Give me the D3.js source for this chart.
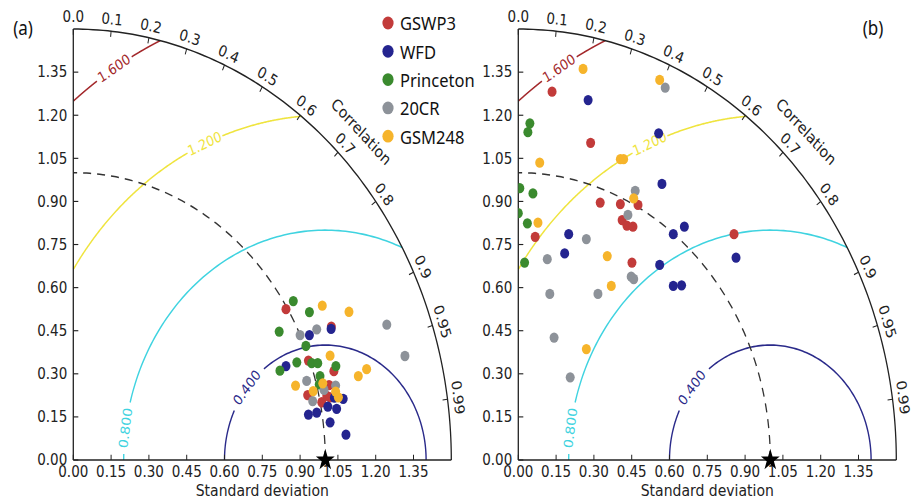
<!DOCTYPE html>
<html><head><meta charset="utf-8">
<script src="https://cdn.jsdelivr.net/npm/d3@7"></script>
<style>body{margin:0;background:#fff;} svg{display:block;}</style>
</head><body>
<svg id="chart" width="911" height="502"></svg>
<script>
// ---------- data ----------
const seriesNames = ["GSWP3", "WFD", "Princeton", "20CR", "GSM248"];
const seriesColors = ["#c23b3a", "#24248f", "#3a8a2e", "#8d9299", "#f6b42b"];
const stdTicks = [0, 0.15, 0.30, 0.45, 0.60, 0.75, 0.90, 1.05, 1.20, 1.35];
const corrTicks = [0, 0.1, 0.2, 0.3, 0.4, 0.5, 0.6, 0.7, 0.8, 0.9, 0.95, 0.99];
const corrTickLabels = ["0.0","0.1","0.2","0.3","0.4","0.5","0.6","0.7","0.8","0.9","0.95","0.99"];
const rmsLevels = [0.4, 0.8, 1.2, 1.6];
const rmsColors = ["#2a2a8a", "#3fd3e0", "#efe43e", "#a3282b"];
const rmsLabelAngle = [141, 172, 113.5, 121.6];
const rmsGapHalf = [13.5, 6.5, 3.6, 2.9];
const refStd = 1.0;

// panel (a): points as [x, y] components in standard-deviation units
const gswp3A = [[0.844,0.525],[1.024,0.464],[0.933,0.346],[1.034,0.309],[1.015,0.261],[0.930,0.226],[0.986,0.201],[1.006,0.223],[1.019,0.218]];
const wfdA = [[0.937,0.435],[1.023,0.456],[0.844,0.327],[1.036,0.217],[1.071,0.213],[1.010,0.186],[1.045,0.178],[0.966,0.165],[0.933,0.158],[1.019,0.131],[1.082,0.088]];
const princetonA = [[0.873,0.553],[0.937,0.515],[0.817,0.447],[0.923,0.397],[0.820,0.311],[0.887,0.340],[0.946,0.337],[0.970,0.337],[1.042,0.327],[0.979,0.292],[0.976,0.263]];
const c20crA = [[0.900,0.435],[0.966,0.455],[1.244,0.471],[1.316,0.362],[0.926,0.275],[1.041,0.259],[0.995,0.244],[0.950,0.205]];
const gsm248A = [[0.988,0.537],[1.094,0.516],[1.019,0.363],[1.164,0.316],[1.131,0.292],[0.882,0.259],[0.990,0.267],[0.952,0.240],[1.041,0.238],[1.052,0.218]];

// panel (b)
const gswp3B = [[0.134,1.282],[0.287,1.104],[0.067,0.777],[0.451,0.687],[0.325,0.896],[0.405,0.891],[0.475,0.888],[0.412,0.835],[0.431,0.816],[0.455,0.812],[0.856,0.786]];
const wfdB = [[0.277,1.253],[0.557,1.137],[0.200,0.786],[0.184,0.719],[0.561,0.679],[0.570,0.961],[0.659,0.812],[0.615,0.786],[0.864,0.704],[0.615,0.606],[0.648,0.608]];
const princetonB = [[0.046,1.172],[0.038,1.141],[0.006,0.946],[0.058,0.928],[0.000,0.859],[0.036,0.824],[0.025,0.687]];
const c20crB = [[0.583,1.296],[0.270,0.769],[0.115,0.699],[0.448,0.638],[0.458,0.630],[0.125,0.578],[0.316,0.578],[0.464,0.937],[0.435,0.853],[0.142,0.426],[0.206,0.288]];
const gsm248B = [[0.257,1.361],[0.561,1.323],[0.085,1.035],[0.405,1.047],[0.418,1.047],[0.078,0.826],[0.353,0.710],[0.369,0.606],[0.458,0.911],[0.270,0.386]];

// ---------- drawing ----------
const K = 252, S = 287.3 / 252, Y0 = 460, RMAX = 1.5;
const svg = d3.select("#chart");
const line = d3.line();
const axisColor = "#222";
const tickFont = "DejaVu Sans, sans-serif";

function panel(id, ox, series, tag, tagX) {
  // uniform polar space, then stretched vertically like the reference
  const g = svg.append("g").attr("transform", `translate(0,${Y0}) scale(1,${S}) translate(0,${-Y0})`);
  const x = d3.scaleLinear().domain([0, RMAX]).range([ox, ox + RMAX * K]);
  const y = d3.scaleLinear().domain([0, RMAX]).range([Y0, Y0 - RMAX * K]);
  const P = (r, th) => [x(r * Math.cos(th)), y(r * Math.sin(th))];
  const arcPts = (r, a0, a1) => { const n = 120; return d3.range(n + 1).map(k => P(r, a0 + (a1 - a0) * k / n)); };

  const clipPts = [[x(0), y(0)]].concat(arcPts(RMAX, 0, Math.PI / 2));
  g.append("defs").append("clipPath").attr("id", "clip" + id)
    .append("path").attr("d", line(clipPts) + "Z");

  // RMS contours
  rmsLevels.forEach((R, i) => {
    const cxm = (3.25 - R * R) / 2, c = (cxm - 1) / R;
    const pmin = c >= 1 ? 0 : Math.acos(c);
    const pmax = R > 1 ? Math.acos(-1 / R) : Math.PI;
    const gs = (rmsLabelAngle[i] - rmsGapHalf[i]) * Math.PI / 180;
    const ge = (rmsLabelAngle[i] + rmsGapHalf[i]) * Math.PI / 180;
    const seg = (a0, a1) => { const n = 100; return d3.range(n + 1).map(k => { const a = a0 + (a1 - a0) * k / n; return [x(refStd + R * Math.cos(a)), y(R * Math.sin(a))]; }); };
    [[pmin, gs], [ge, pmax]].forEach(([a0, a1]) => {
      if (a1 > a0) g.append("path").attr("d", line(seg(a0, a1))).attr("fill", "none")
        .attr("stroke", rmsColors[i]).attr("stroke-width", 1.4);
    });
    const la = rmsLabelAngle[i] * Math.PI / 180;
    const lx = x(refStd + R * Math.cos(la)), ly = y(R * Math.sin(la));
    const rot = 90 - rmsLabelAngle[i];
    g.append("text").attr("transform", `translate(${lx},${ly}) rotate(${rot})`)
      .attr("text-anchor", "middle").attr("dominant-baseline", "central")
      .attr("font-family", tickFont).attr("font-size", 12.5).attr("fill", rmsColors[i])
      .text(d3.format(".3f")(R));
  });

  // reference std dashed arc
  g.append("path").attr("d", line(arcPts(refStd, 0, Math.PI / 2))).attr("fill", "none")
    .attr("stroke", "#333").attr("stroke-width", 1.3).attr("stroke-dasharray", "8,6");

  // axes
  g.append("path").attr("d", line(arcPts(RMAX, 0, Math.PI / 2))).attr("fill", "none")
    .attr("stroke", axisColor).attr("stroke-width", 1.3);
  g.append("line").attr("x1", x(0)).attr("y1", y(0)).attr("x2", x(0)).attr("y2", y(RMAX))
    .attr("stroke", axisColor).attr("stroke-width", 1.3);
  g.append("line").attr("x1", x(0)).attr("y1", y(0)).attr("x2", x(RMAX)).attr("y2", y(0))
    .attr("stroke", axisColor).attr("stroke-width", 1.3);

  // std ticks
  stdTicks.forEach(t => {
    g.append("line").attr("x1", x(t)).attr("x2", x(t)).attr("y1", y(0)).attr("y2", y(0) - 4.5).attr("stroke", axisColor);
    g.append("line").attr("x1", x(0)).attr("x2", x(0) + 5).attr("y1", y(t)).attr("y2", y(t)).attr("stroke", axisColor);
    g.append("text").attr("x", x(t)).attr("y", y(0) + 15).attr("text-anchor", "middle")
      .attr("font-family", tickFont).attr("font-size", 13.5).attr("fill", axisColor).text(d3.format(".2f")(t));
    g.append("text").attr("x", x(0) - 6).attr("y", y(t)).attr("text-anchor", "end").attr("dominant-baseline", "central")
      .attr("font-family", tickFont).attr("font-size", 13.5).attr("fill", axisColor).text(d3.format(".2f")(t));
  });
  g.append("text").attr("x", x(RMAX / 2)).attr("y", y(0) + 31.5).attr("text-anchor", "middle")
    .attr("font-family", tickFont).attr("font-size", 14).attr("fill", axisColor).text("Standard deviation");

  // correlation ticks
  corrTicks.forEach((c, i) => {
    const th = Math.acos(c);
    const [px, py] = P(RMAX, th);
    const [qx, qy] = P(RMAX - 5 / K, th);
    g.append("line").attr("x1", px).attr("y1", py).attr("x2", qx).attr("y2", qy).attr("stroke", axisColor);
    const off = 10.5;
    const lx = px + off * Math.cos(th), ly = py - off * Math.sin(th);
    g.append("text").attr("transform", `translate(${lx},${ly}) rotate(${90 - th * 180 / Math.PI})`)
      .attr("text-anchor", "middle").attr("dominant-baseline", "central")
      .attr("font-family", tickFont).attr("font-size", 13.5).attr("fill", axisColor).text(corrTickLabels[i]);
  });
  {
    const th = Math.PI / 4;
    const [px, py] = P(RMAX, th);
    g.append("text").attr("transform", `translate(${px + 29 * Math.cos(th)},${py - 29 * Math.sin(th)}) rotate(44)`)
      .attr("text-anchor", "middle").attr("dominant-baseline", "central")
      .attr("font-family", tickFont).attr("font-size", 14).attr("fill", axisColor).text("Correlation");
  }

  // points
  const pg = g.append("g").attr("clip-path", `url(#clip${id})`);
  series.forEach((pts, si) => {
    pg.selectAll(null).data(pts).enter().append("circle")
      .attr("cx", d => x(d[0])).attr("cy", d => y(d[1])).attr("r", 4.5)
      .attr("fill", seriesColors[si]);
  });

  // reference star
  g.append("path").attr("d", d3.symbol().type(d3.symbolStar).size(110)())
    .attr("transform", `translate(${x(refStd)},${y(0)})`).attr("fill", "#000");

  // panel tag
  svg.append("text").attr("transform", `translate(${tagX},28) scale(1,${S})`).attr("text-anchor", "middle")
    .attr("dominant-baseline", "central")
    .attr("font-family", "Noto Sans, sans-serif").attr("font-size", 17).attr("fill", "#111").text(tag);
}

panel("a", 73.3, [gswp3A, wfdA, princetonA, c20crA, gsm248A], "(a)", 23);
panel("b", 518.3, [gswp3B, wfdB, princetonB, c20crB, gsm248B], "(b)", 873);

// legend
const lg = svg.append("g");
seriesNames.forEach((n, i) => {
  const yy = 23 + i * 28.3;
  lg.append("ellipse").attr("cx", 388).attr("cy", yy).attr("rx", 5.6).attr("ry", 5.6 * S).attr("fill", seriesColors[i]);
  lg.append("text").attr("transform", `translate(400,${yy}) scale(1,${S})`).attr("dominant-baseline", "central")
    .attr("font-family", "Noto Sans, sans-serif").attr("font-size", 16.5).attr("fill", "#111").text(n);
});
</script>
</body></html>
